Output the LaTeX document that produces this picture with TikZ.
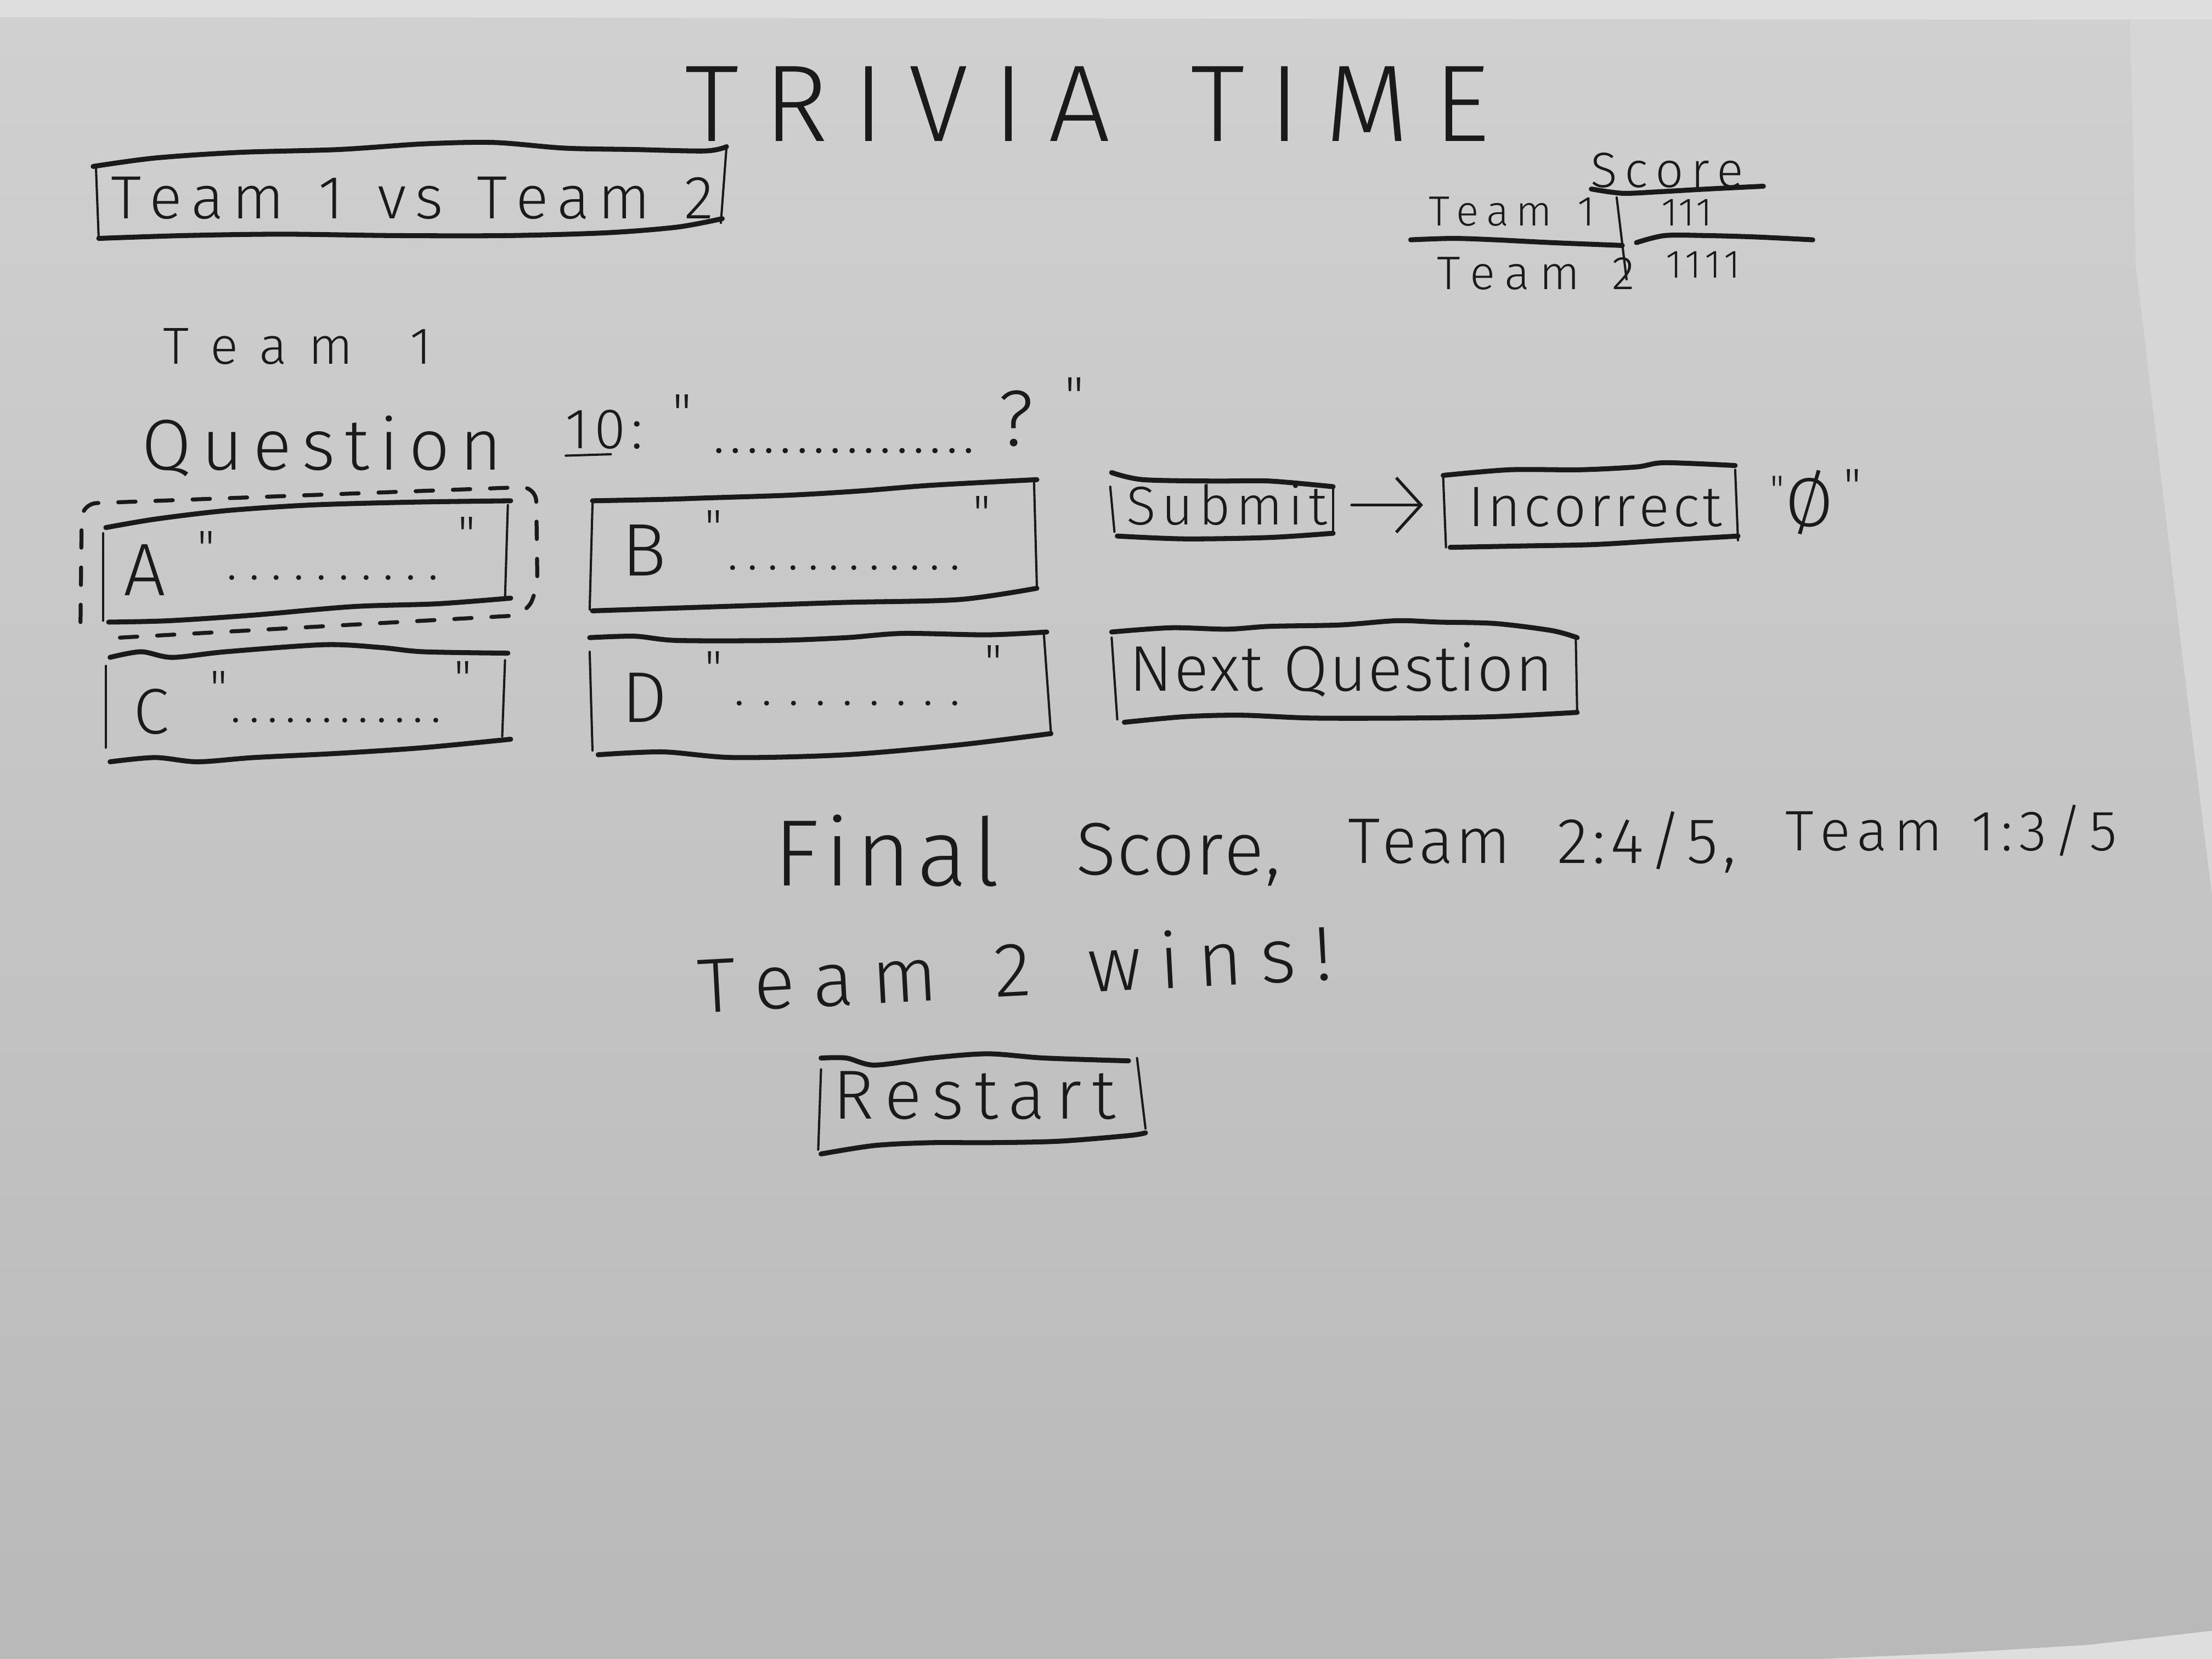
\documentclass[tikz,border=0pt]{standalone}
\usepackage{fontspec}
\setmainfont{Fira Sans Light}
\newfontfamily\plainq{Fira Sans Light}
\usetikzlibrary{arrows.meta}

\definecolor{ink}{HTML}{1A1A1A}
\definecolor{paperTop}{HTML}{D0D0D0}
\definecolor{paperBot}{HTML}{B9B9B9}
\definecolor{desk}{HTML}{DEDEDE}
\definecolor{sheet}{HTML}{D6D6D6}

% spread the letters of a word evenly over a given width (use ~ for word gaps)
\def\spreadfirst#1{#1\spreadrest}
\def\spreadrest#1{\ifx\relax#1\else\hfill#1\expandafter\spreadrest\fi}
\newcommand\spreadto[2]{\makebox[#1][s]{\spreadfirst#2\relax}}
\newcommand\fs[1]{\fontsize{#1pt}{#1pt}\selectfont}

\tikzset{
  hw/.style={inner sep=0pt, anchor=base west, text=ink},
  qm/.style={inner sep=0pt, anchor=north west, text=ink, font=\plainq\fs{#1}},
  qm/.default=10,
  rim/.style={draw=ink, line width=1.0pt, line cap=round, line join=round},
  side/.style={draw=ink, line width=0.45pt, line cap=round},
  sel/.style={draw=ink, line width=0.8pt, dash pattern=on 3.5pt off 4pt, line cap=round, rounded corners=3pt},
  boxarea/.style={inner sep=0pt, minimum height=0.42cm},
}

\begin{document}
\begin{tikzpicture}[x=0.01cm, y=-0.01cm]
\useasboundingbox (0,0) rectangle (1568,1176);

% paper and desk
\fill[desk] (0,0) rectangle (1568,1176);
\fill[sheet] (1510,14) -- (1568,14) -- (1568,640) -- (1547,465) -- (1514,188) -- cycle;
\shade[top color=paperTop, bottom color=paperBot]
  (0,12) -- (1510,14) -- (1514,188) -- (1547,465) -- (1568,635) -- (1568,1156)
  -- (1480,1166) -- (1380,1172) -- (1290,1176) -- (0,1176) -- cycle;

% title
\node[hw,font=\fs{22}] (title) at (485,100) {\spreadto{5.70cm}{TRIVIA~TIME}};

% team banner
\node[hw,font=\fs{12.3}] (versus) at (78,155) {\spreadto{4.27cm}{Team~1~vs~Team~2}};
\draw[rim] plot[smooth,tension=.5] coordinates {(66,118) (110,112) (170,108) (240,106) (300,102) (350,101) (400,105) (450,106) (500,107) (515,104)};
\draw[side] (68,118) -- (70,170);
\draw[side] (515,104) -- (511,158);
\draw[rim] plot[smooth,tension=.5] coordinates {(70,169) (130,167) (200,166) (280,167) (360,167) (430,165) (480,161) (512,155)};

% score table
\node[hw,font=\fs{10}] (scorehead) at (1127,133) {\spreadto{1.08cm}{Score}};
\node[hw,font=\fs{8.5}] (rowone) at (1012,160) {\spreadto{1.18cm}{Team~1}};
\node[hw,font=\fs{9.5}] (rowtwo) at (1018,205) {\spreadto{1.40cm}{Team~2}};
\node[hw,font=\fs{8}] (tallyone) at (1177,160) {\spreadto{0.36cm}{111}};
\node[hw,font=\fs{8}] (tallytwo) at (1180,197) {\spreadto{0.53cm}{1111}};
\draw[rim] plot[smooth,tension=.5] coordinates {(1128,134) (1150,137) (1175,136) (1210,134) (1250,132)};
\draw[rim] plot[smooth,tension=.5] coordinates {(1000,170) (1030,169) (1060,170) (1100,172) (1150,174)};
\draw[side] (1146,140) -- (1153,198);
\draw[rim] plot[smooth,tension=.5] coordinates {(1160,172) (1180,167) (1210,167) (1245,168) (1285,170)};

% whose turn and the question
\node[hw,font=\fs{10.5}] (turn) at (115,258) {\spreadto{1.90cm}{Team~1}};
\node[hw,font=\fs{14.5}] (qlabel) at (100,333) {\spreadto{2.55cm}{Question}};
\node[hw,font=\fs{11.5}] (qnum) at (400,318) {\spreadto{0.55cm}{10:}};
\draw[side] (401,323) -- (433,322);
\node[qm=11] (qopen) at (476,279) {"};
\node[hw,font=\fs{11}] (qdots) at (505,321) {\spreadto{1.85cm}{................}};
\node[hw,font=\fs{16}] (qmark) at (707,316) {?};
\node[qm=11] (qclose) at (754,267) {"};

% answer A (selected)
\node[hw,font=\fs{15}] (optA) at (87,422) {A};
\node[qm] (aopen) at (139,376) {"};
\node[hw,font=\fs{10}] (adots) at (160,411) {\spreadto{1.50cm}{..........}};
\node[qm] (aclose) at (324,366) {"};
\draw[rim] plot[smooth,tension=.5] coordinates {(75,374) (110,368) (160,362) (220,358) (290,356) (362,355)};
\draw[side] (73,378) -- (73,440);
\draw[side] (360,358) -- (358,424);
\draw[rim] plot[smooth,tension=.5] coordinates {(77,441) (120,440) (180,436) (250,430) (310,428) (362,424)};
\draw[sel] (85,452) -- (372,436) -- (381,418) -- (380,345) -- (58,357) -- (57,448);

% answer B
\node[hw,font=\fs{15}] (optB) at (440,408) {B};
\node[qm] (bopen) at (499,361) {"};
\node[hw,font=\fs{10}] (bdots) at (515,404) {\spreadto{1.65cm}{............}};
\node[qm] (bclose) at (689,351) {"};
\draw[rim] plot[smooth,tension=.5] coordinates {(420,355) (470,354) (500,353) (560,351) (610,348) (660,344) (735,340)};
\draw[side] (420,357) -- (418,432);
\draw[side] (733,342) -- (735,416);
\draw[rim] plot[smooth,tension=.5] coordinates {(420,433) (480,431) (540,429) (600,427) (680,425) (735,417)};

% answer C
\node[hw,font=\fs{13}] (optC) at (94,520) {C};
\node[qm] (copen) at (148,475) {"};
\node[hw,font=\fs{10}] (cdots) at (163,512) {\spreadto{1.49cm}{............}};
\node[qm] (cclose) at (321,468) {"};
\draw[rim] plot[smooth,tension=.5] coordinates {(78,466) (100,462) (122,466) (160,462) (230,457) (270,459) (300,462) (360,463)};
\draw[side] (75,472) -- (75,530);
\draw[side] (358,468) -- (356,522);
\draw[rim] plot[smooth,tension=.5] coordinates {(78,540) (110,537) (140,540) (180,537) (240,534) (300,530) (362,524)};

% answer D
\node[hw,font=\fs{14.5}] (optD) at (440,512) {D};
\node[qm] (dopen) at (499,461) {"};
\node[hw,font=\fs{10}] (ddots) at (520,500) {\spreadto{1.60cm}{.........}};
\node[qm] (dclose) at (697,457) {"};
\draw[rim] plot[smooth,tension=.5] coordinates {(418,452) (450,451) (480,454) (550,454) (600,452) (640,449) (700,450) (742,448)};
\draw[side] (418,462) -- (420,532);
\draw[side] (740,450) -- (745,520);
\draw[rim] plot[smooth,tension=.5] coordinates {(424,535) (470,533) (520,537) (600,535) (680,528) (745,520)};

% submit -> incorrect
\node[boxarea, minimum width=1.55cm] (subbox) at (867,358) {};
\node[boxarea, minimum width=2.07cm] (incbox) at (1127,358) {};
\node[hw,font=\fs{11}] (submit) at (798,372) {\spreadto{1.42cm}{Submit}};
\draw[rim] plot[smooth,tension=.5] coordinates {(788,335) (810,340) (860,341) (900,341) (945,345)};
\draw[side] (787,345) -- (790,377);
\draw[side] (945,345) -- (945,378);
\draw[rim] plot[smooth,tension=.5] coordinates {(792,380) (840,382) (900,381) (945,378)};
\draw[side, line width=0.6pt, -{Straight Barb[length=5pt,width=11pt]}, shorten <=0.13cm, shorten >=0.14cm] (subbox) -- (incbox);
\node[hw,font=\fs{11.5}] (incorrect) at (1040,373) {\spreadto{1.80cm}{Incorrect}};
\draw[rim] plot[smooth,tension=.5] coordinates {(1023,337) (1070,333) (1120,333) (1160,331) (1180,328) (1230,330)};
\draw[side] (1023,338) -- (1025,388);
\draw[side] (1230,333) -- (1232,383);
\draw[rim] plot[smooth,tension=.5] coordinates {(1028,388) (1080,387) (1130,386) (1180,383) (1232,380)};
\node[qm=8] (zopen) at (1254,337) {"};
\node[hw,font=\fs{14}] (zero) at (1265,373) {Ø};
\node[qm=10] (zclose) at (1306,332) {"};

% next question
\node[hw,font=\fs{13}] (nextq) at (800,490) {\spreadto{3.00cm}{Next~Question}};
\draw[rim] plot[smooth,tension=.5] coordinates {(788,448) (830,445) (870,446) (900,444) (950,443) (990,440) (1020,441) (1060,442) (1100,447) (1118,452)};
\draw[side] (788,452) -- (792,510);
\draw[side] (1117,452) -- (1118,505);
\draw[rim] plot[smooth,tension=.5] coordinates {(797,512) (840,508) (880,507) (930,509) (1000,509) (1060,508) (1118,505)};

% final result
\node[hw,font=\fs{19}] (final) at (548,628) {\spreadto{1.60cm}{Final}};
\node[hw,font=\fs{15}] (scorew) at (762,620) {\spreadto{1.45cm}{Score,}};
\node[hw,font=\fs{13}] (teamw) at (955,612) {\spreadto{1.15cm}{Team}};
\node[hw,font=\fs{13}] (twofive) at (1103,612) {\spreadto{1.27cm}{2:4/5,}};
\node[hw,font=\fs{11.5}] (onefive) at (1265,603) {\spreadto{2.35cm}{Team~1:3/5}};
\node[hw,font=\fs{15.5}, rotate=3] (winner) at (495,718) {\spreadto{4.50cm}{Team~2~wins!}};

% restart
\node[hw,font=\fs{14}] (restart) at (590,793) {\spreadto{2.00cm}{Restart}};
\draw[rim] plot[smooth,tension=.5] coordinates {(582,750) (600,750) (620,755) (660,750) (700,747) (740,750) (800,752)};
\draw[side] (582,758) -- (580,815);
\draw[side] (806,750) -- (812,800);
\draw[rim] plot[smooth,tension=.5] coordinates {(582,818) (620,812) (660,810) (700,810) (750,809) (800,805) (812,803)};
\end{tikzpicture}
\end{document}
